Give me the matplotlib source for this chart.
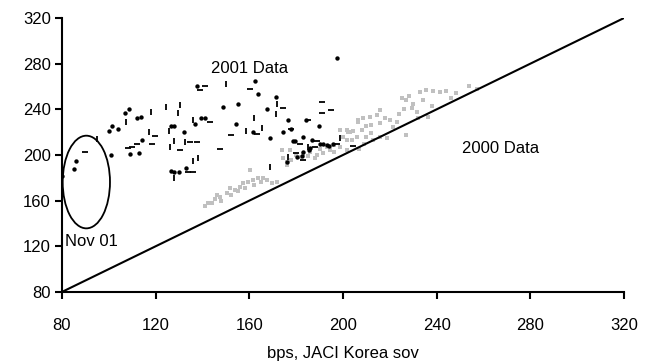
import matplotlib
matplotlib.use("Agg")
import matplotlib.pyplot as plt
from matplotlib.patches import Ellipse

plt.rcParams['font.family'] = ['Liberation Sans Narrow', 'Liberation Sans', 'DejaVu Sans']

# 2001 data (black): dots, horizontal dashes, vertical dashes
dots_2001 = [(80, 182), (85, 188), (86, 195), (100, 221), (101, 200), (101.5, 225), (104, 223),
             (107, 237), (108.6, 240), (112, 232), (113.7, 233), (109, 201), (112.9, 202), (114, 213),
             (126.5, 225), (128, 225), (132, 220), (136.8, 227), (139.3, 232), (141, 232),
             (126.5, 186), (128, 185), (130, 185), (133, 189), (137.5, 260), (162.4, 265),
             (163.8, 253), (171.4, 251), (155.3, 245), (148.6, 242), (167.4, 240.6), (176.6, 230.7),
             (184.2, 230.7), (189.9, 225), (177.6, 222.8), (174.5, 220), (161.7, 220), (154.3, 227),
             (169, 214.6), (197.3, 284.7), (178.8, 212.5), (183, 215.5), (190.2, 210), (193, 208.8),
             (195.8, 210), (180.2, 198.5), (183, 203), (185.9, 205.7), (185.6, 204.4), (176, 194),
             (182.3, 199), (191.6, 209.6), (194.2, 208), (179.5, 212), (186.6, 213)]
hdash_2001 = [(90, 203), (118.3, 210), (109.7, 207), (111.9, 210), (134.7, 211.6), (137.7, 211),
              (134, 185), (136, 185), (139, 257), (141, 260), (160.3, 257.5), (191, 246.7),
              (191, 236.5), (195, 239), (163.4, 218.4), (152, 217.5), (147.5, 205), (174.5, 241.5),
              (181.6, 210), (188.7, 212.5), (197.3, 209.6), (188, 206.7), (180, 201.5), (183, 195.6),
              (204.4, 208), (178, 222.5), (184.9, 230.7), (119.6, 217), (143, 229), (108, 206),
              (130.4, 204)]
vdash_2001 = [(95, 214), (107.2, 229), (118, 238), (117.3, 220), (124.4, 242), (130.4, 244),
              (129.4, 237), (125.8, 221), (136, 230.7), (128, 212), (126, 207), (132.5, 211),
              (128, 180), (136, 195), (138, 197), (150, 262), (165.3, 224), (158.6, 221), (172, 245),
              (162, 232), (168.8, 189.8), (198.7, 214.6), (185.2, 207.3), (176.6, 198.5), (171.4, 235.6)]

# 2000 data (grey)
pts_2000 = [(141, 155), (142.4, 158), (145.3, 161), (147.5, 163.5), (146, 165), (150.3, 166.4),
            (151.7, 170.8), (153.9, 169.3), (156, 172.2), (157.4, 175.2), (159.6, 176.6), (161.7, 178),
            (163.8, 179.6), (166, 179.6), (167.4, 178), (169.5, 175.2), (171.7, 176.6), (160.3, 187),
            (148, 160), (152, 165), (155, 168), (158, 171), (162, 174), (165, 176), (144, 158),
            (173.8, 204), (174.5, 197), (176, 194), (176, 191), (177.3, 204.4), (181.6, 198.5),
            (176, 192.7), (178, 196), (180, 200), (183, 201), (186, 203), (188.7, 200), (191.6, 201.5),
            (194.4, 204.4), (196, 203), (198.7, 207.3), (201.5, 204.4), (200.1, 216), (201.5, 221.9),
            (203, 220.4), (203.7, 213), (198.7, 221.9), (202.2, 220.4), (204.4, 221.3), (206.5, 229),
            (205.8, 216), (201.5, 213), (206.5, 230.7), (208.7, 232), (211.5, 233.6), (214.4, 235),
            (215.8, 239.4), (210, 216), (213, 213), (215.8, 216), (218.6, 214.6), (220, 230.7),
            (222.9, 229), (221.5, 224.8), (227.1, 217.5), (227.1, 248), (229.3, 240.9), (231.4, 238),
            (232, 232), (236.4, 233.5), (232.8, 255.5), (235.6, 257), (238.4, 256), (241.3, 255.5),
            (248.3, 254.6), (253.8, 260), (257.4, 257.5), (190, 205), (193, 207), (196, 209),
            (208, 222), (210, 225), (212, 226), (216, 228), (218, 232), (224, 236), (226, 240),
            (230, 245), (234, 248), (225, 250), (228, 252), (244, 256), (246, 250), (238, 243),
            (209, 210), (212, 219), (207, 205), (188, 197), (185, 199)]

ticks = [80, 120, 160, 200, 240, 280, 320]
diag = [80, 320]

fig = plt.figure(figsize=(6.49, 3.64), dpi=100)
ax = fig.add_axes([0.0955, 0.198, 0.866, 0.7525])

ax.scatter([p[0] for p in pts_2000], [p[1] for p in pts_2000], marker='s', s=6,
           color='#c0c0c0', linewidths=0, zorder=2)
ax.scatter([p[0] for p in dots_2001], [p[1] for p in dots_2001], marker='o', s=10,
           color='black', linewidths=0, zorder=3)
ax.scatter([p[0] for p in hdash_2001], [p[1] for p in hdash_2001], marker='_', s=16,
           color='black', linewidths=1.3, zorder=3)
ax.scatter([p[0] for p in vdash_2001], [p[1] for p in vdash_2001], marker='|', s=16,
           color='black', linewidths=1.3, zorder=3)

ax.plot(diag, diag, color='black', lw=1.5, zorder=4)
ax.add_patch(Ellipse((90.4, 176.3), 20.2, 81.2, fill=False, edgecolor='black', lw=1.3))

ax.text(143.6, 276, '2001 Data', fontsize=12, va='center', ha='left')
ax.text(251, 206, '2000 Data', fontsize=12, va='center', ha='left')
ax.text(81.3, 124, 'Nov 01', fontsize=12, va='center', ha='left')

ax.set_xlim(80, 320)
ax.set_ylim(80, 320)
ax.set_xticks(ticks)
ax.set_yticks(ticks)
for s in ['top', 'right']:
    ax.spines[s].set_visible(False)
for s in ['left', 'bottom']:
    ax.spines[s].set_linewidth(1.5)
ax.tick_params(axis='both', direction='out', length=5, width=1.5, labelsize=12)
ax.tick_params(axis='x', pad=14)
ax.tick_params(axis='y', pad=3)
ax.set_xlabel('bps, JACI Korea sov', fontsize=12, labelpad=9)

fig.savefig('out.png', dpi=100)
